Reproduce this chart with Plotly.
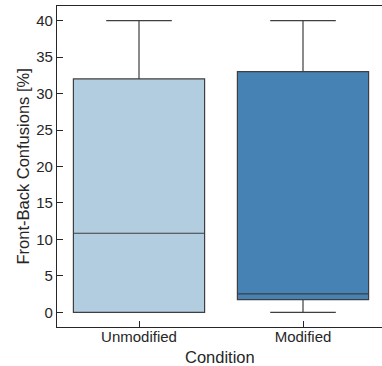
import plotly.graph_objects as go

categories = ["Unmodified", "Modified"]
q1_vals = [0.0, 1.75]
median_vals = [10.85, 2.55]
q3_vals = [32.0, 33.0]
lower_vals = [0.0, 0.0]
upper_vals = [40.0, 40.0]
fill_colors = ["#b3cde0", "#4682b4"]
y_ticks = [0, 5, 10, 15, 20, 25, 30, 35, 40]
x_title = "Condition"
y_title = "Front-Back Confusions [%]"

fig = go.Figure()
for i, cat in enumerate(categories):
    fig.add_trace(go.Box(
        x=[cat], q1=[q1_vals[i]], median=[median_vals[i]], q3=[q3_vals[i]],
        lowerfence=[lower_vals[i]], upperfence=[upper_vals[i]],
        fillcolor=fill_colors[i],
        line=dict(color="#3f3f3f", width=1.2),
        width=0.8, whiskerwidth=0.5, boxpoints=False,
        showlegend=False,
    ))

font = "Liberation Sans, Arial, sans-serif"
fig.update_layout(
    width=382, height=366,
    margin=dict(l=57, r=0, t=6, b=39),
    plot_bgcolor="white", paper_bgcolor="white",
    font=dict(family=font, color="#262626"),
    xaxis=dict(
        type="category", range=[-0.5, 1.5 - 3/164],
        showline=True, linecolor="#262626", linewidth=1.2, mirror=True,
        ticks="inside", ticklen=6, tickcolor="#262626", tickwidth=1.2,
        tickfont=dict(size=15), showgrid=False, zeroline=False,
        ticklabelstandoff=-4,
    ),
    yaxis=dict(
        range=[-2, 42], tickvals=y_ticks,
        showline=True, linecolor="#262626", linewidth=1.2,
        ticks="inside", ticklen=6, tickcolor="#262626", tickwidth=1.2,
        tickfont=dict(size=15), showgrid=False, zeroline=False,
    ),
    annotations=[
        dict(text=x_title, xref="paper", yref="paper", x=0.5, y=0,
             xanchor="center", yanchor="middle", yshift=-29.5,
             showarrow=False, font=dict(size=16.5)),
        dict(text=y_title, xref="paper", yref="paper", x=0, y=0.5,
             xanchor="center", yanchor="middle", xshift=-35, textangle=-90,
             showarrow=False, font=dict(size=16.5)),
    ],
)
fig.write_html("out.html")
